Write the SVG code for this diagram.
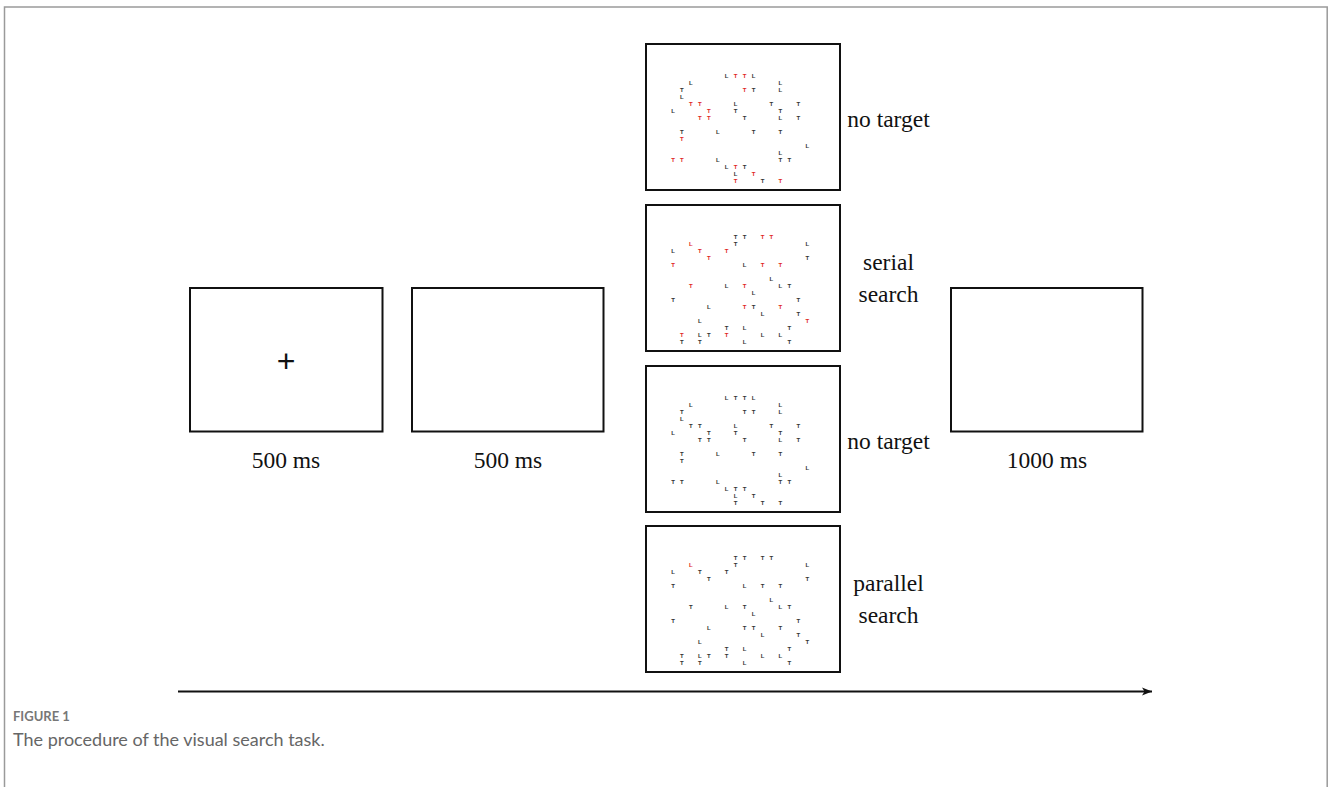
<svg xmlns="http://www.w3.org/2000/svg" width="1328" height="787" viewBox="0 0 1328 787">
<style>
.box{fill:#fff;stroke:#111;stroke-width:2}
.lbl{font-family:"Liberation Serif","Times New Roman",serif;font-size:23.5px;fill:#111;text-anchor:middle}
.s text{font-family:"Liberation Sans",Arial,sans-serif;font-size:6px;font-weight:bold;fill:#333;text-anchor:middle}
.s text.r{fill:#e0261f}
.cap1{font-family:Lato,"Open Sans",sans-serif;font-size:13px;font-weight:bold;fill:#777}
.cap2{font-family:Lato,"Open Sans",sans-serif;font-size:18px;fill:#666}
</style>
<defs>
<marker id="ah" markerWidth="12" markerHeight="10" refX="10" refY="5" orient="auto" markerUnits="userSpaceOnUse">
<path d="M0,1 L10,5 L0,9 L2.5,5 Z" fill="#111"/>
</marker>
</defs>
<rect x="0" y="0" width="1328" height="787" fill="#fff"/>
<g id="frame" fill="none" stroke="#9a9a9a" stroke-width="1.5">
<path d="M4.5,787 V7 H1327.2 V787"/>
</g>

<g id="fixation">
<rect class="box" x="190" y="288" width="192.5" height="143.5"/>
<text x="286" y="372" font-family="'Liberation Sans',Arial,sans-serif" font-size="32" text-anchor="middle" fill="#111">+</text>
<text class="lbl" x="286" y="468">500 ms</text>
</g>

<g id="blank1">
<rect class="box" x="412" y="288" width="191.5" height="143.5"/>
<text class="lbl" x="508" y="468">500 ms</text>
</g>

<g id="blank2">
<rect class="box" x="951" y="288" width="191.5" height="143.5"/>
<text class="lbl" x="1047" y="468">1000 ms</text>
</g>

<g id="stim1" class="s" transform="translate(645,43)">
<rect class="box" x="1" y="1" width="194" height="146"/>
<text x="81.7" y="34.5">L</text><text class="r" x="90.65" y="34.5">T</text><text class="r" x="99.6" y="34.5">T</text><text x="108.55" y="34.5">L</text>
<text x="45.9" y="41.55">L</text><text x="135.4" y="41.55">L</text>
<text x="36.95" y="48.6">T</text><text class="r" x="99.6" y="48.6">T</text><text x="108.55" y="48.6">T</text><text x="135.4" y="48.6">L</text>
<text x="36.95" y="55.65">L</text>
<text class="r" x="45.9" y="62.7">T</text><text class="r" x="54.85" y="62.7">T</text><text x="90.65" y="62.7">L</text><text x="126.45" y="62.7">T</text><text x="153.3" y="62.7">T</text>
<text x="28" y="69.75">L</text><text class="r" x="63.8" y="69.75">T</text><text x="90.65" y="69.75">T</text><text x="135.4" y="69.75">T</text>
<text class="r" x="54.85" y="76.8">T</text><text class="r" x="63.8" y="76.8">T</text><text x="99.6" y="76.8">T</text><text x="135.4" y="76.8">L</text><text x="153.3" y="76.8">T</text>
<text x="36.95" y="90.9">T</text><text x="72.75" y="90.9">L</text><text x="108.55" y="90.9">T</text><text x="135.4" y="90.9">T</text>
<text class="r" x="36.95" y="97.95">T</text>
<text x="162.25" y="105">L</text>
<text x="135.4" y="112.05">L</text>
<text class="r" x="28" y="119.1">T</text><text class="r" x="36.95" y="119.1">T</text><text x="72.75" y="119.1">L</text><text x="135.4" y="119.1">T</text><text x="144.35" y="119.1">T</text>
<text x="81.7" y="126.15">L</text><text class="r" x="90.65" y="126.15">T</text><text x="99.6" y="126.15">T</text>
<text x="90.65" y="133.2">L</text><text class="r" x="108.55" y="133.2">T</text>
<text class="r" x="90.65" y="140.25">T</text><text x="117.5" y="140.25">T</text><text class="r" x="135.4" y="140.25">T</text>
</g>
<text class="lbl" x="888.5" y="126.5">no target</text>

<g id="stim2" class="s" transform="translate(645,204)">
<rect class="box" x="1" y="1" width="194" height="146"/>
<text x="90.65" y="34.5">T</text><text x="99.6" y="34.5">T</text><text class="r" x="117.5" y="34.5">T</text><text class="r" x="126.45" y="34.5">T</text>
<text class="r" x="45.9" y="41.55">L</text><text x="90.65" y="41.55">T</text><text x="162.25" y="41.55">L</text>
<text x="28" y="48.6">L</text><text class="r" x="54.85" y="48.6">T</text><text class="r" x="81.7" y="48.6">T</text>
<text class="r" x="63.8" y="55.65">T</text><text x="162.25" y="55.65">T</text>
<text class="r" x="28" y="62.7">T</text><text x="99.6" y="62.7">L</text><text class="r" x="117.5" y="62.7">T</text><text class="r" x="135.4" y="62.7">T</text>
<text x="126.45" y="76.8">L</text>
<text class="r" x="45.9" y="83.85">T</text><text x="81.7" y="83.85">L</text><text class="r" x="99.6" y="83.85">T</text><text x="135.4" y="83.85">L</text><text x="144.35" y="83.85">T</text>
<text x="108.55" y="90.9">L</text>
<text x="28" y="97.95">T</text><text x="153.3" y="97.95">T</text>
<text x="63.8" y="105">L</text><text class="r" x="99.6" y="105">T</text><text x="108.55" y="105">T</text><text class="r" x="135.4" y="105">T</text>
<text x="117.5" y="112.05">L</text><text x="153.3" y="112.05">T</text>
<text x="54.85" y="119.1">L</text><text class="r" x="162.25" y="119.1">T</text>
<text x="81.7" y="126.15">T</text><text x="99.6" y="126.15">L</text><text x="144.35" y="126.15">T</text>
<text class="r" x="36.95" y="133.2">T</text><text x="54.85" y="133.2">L</text><text x="63.8" y="133.2">T</text><text class="r" x="81.7" y="133.2">T</text><text x="117.5" y="133.2">L</text><text x="135.4" y="133.2">L</text>
<text x="36.95" y="140.25">T</text><text x="54.85" y="140.25">T</text><text x="99.6" y="140.25">L</text><text x="144.35" y="140.25">T</text>
</g>
<text class="lbl" x="888.5" y="270">serial</text>
<text class="lbl" x="888.5" y="301.5">search</text>

<g id="stim3" class="s" transform="translate(645,365)">
<rect class="box" x="1" y="1" width="194" height="146"/>
<text x="81.7" y="34.5">L</text><text x="90.65" y="34.5">T</text><text x="99.6" y="34.5">T</text><text x="108.55" y="34.5">L</text>
<text x="45.9" y="41.55">L</text><text x="135.4" y="41.55">L</text>
<text x="36.95" y="48.6">T</text><text x="99.6" y="48.6">T</text><text x="108.55" y="48.6">T</text><text x="135.4" y="48.6">L</text>
<text x="36.95" y="55.65">L</text>
<text x="45.9" y="62.7">T</text><text x="54.85" y="62.7">T</text><text x="90.65" y="62.7">L</text><text x="126.45" y="62.7">T</text><text x="153.3" y="62.7">T</text>
<text x="28" y="69.75">L</text><text x="63.8" y="69.75">T</text><text x="90.65" y="69.75">T</text><text x="135.4" y="69.75">T</text>
<text x="54.85" y="76.8">T</text><text x="63.8" y="76.8">T</text><text x="99.6" y="76.8">T</text><text x="135.4" y="76.8">L</text><text x="153.3" y="76.8">T</text>
<text x="36.95" y="90.9">T</text><text x="72.75" y="90.9">L</text><text x="108.55" y="90.9">T</text><text x="135.4" y="90.9">T</text>
<text x="36.95" y="97.95">T</text>
<text x="162.25" y="105">L</text>
<text x="135.4" y="112.05">L</text>
<text x="28" y="119.1">T</text><text x="36.95" y="119.1">T</text><text x="72.75" y="119.1">L</text><text x="135.4" y="119.1">T</text><text x="144.35" y="119.1">T</text>
<text x="81.7" y="126.15">L</text><text x="90.65" y="126.15">T</text><text x="99.6" y="126.15">T</text>
<text x="90.65" y="133.2">L</text><text x="108.55" y="133.2">T</text>
<text x="90.65" y="140.25">T</text><text x="117.5" y="140.25">T</text><text x="135.4" y="140.25">T</text>
</g>
<text class="lbl" x="888.5" y="448.5">no target</text>

<g id="stim4" class="s" transform="translate(645,525)">
<rect class="box" x="1" y="1" width="194" height="146"/>
<text x="90.65" y="34.5">T</text><text x="99.6" y="34.5">T</text><text x="117.5" y="34.5">T</text><text x="126.45" y="34.5">T</text>
<text class="r" x="45.9" y="41.55">L</text><text x="90.65" y="41.55">T</text><text x="162.25" y="41.55">L</text>
<text x="28" y="48.6">L</text><text x="54.85" y="48.6">T</text><text x="81.7" y="48.6">T</text>
<text x="63.8" y="55.65">T</text><text x="162.25" y="55.65">T</text>
<text x="28" y="62.7">T</text><text x="99.6" y="62.7">L</text><text x="117.5" y="62.7">T</text><text x="135.4" y="62.7">T</text>
<text x="126.45" y="76.8">L</text>
<text x="45.9" y="83.85">T</text><text x="81.7" y="83.85">L</text><text x="99.6" y="83.85">T</text><text x="135.4" y="83.85">L</text><text x="144.35" y="83.85">T</text>
<text x="108.55" y="90.9">L</text>
<text x="28" y="97.95">T</text><text x="153.3" y="97.95">T</text>
<text x="63.8" y="105">L</text><text x="99.6" y="105">T</text><text x="108.55" y="105">T</text><text x="135.4" y="105">T</text>
<text x="117.5" y="112.05">L</text><text x="153.3" y="112.05">T</text>
<text x="54.85" y="119.1">L</text><text x="162.25" y="119.1">T</text>
<text x="81.7" y="126.15">T</text><text x="99.6" y="126.15">L</text><text x="144.35" y="126.15">T</text>
<text x="36.95" y="133.2">T</text><text x="54.85" y="133.2">L</text><text x="63.8" y="133.2">T</text><text x="81.7" y="133.2">T</text><text x="117.5" y="133.2">L</text><text x="135.4" y="133.2">L</text>
<text x="36.95" y="140.25">T</text><text x="54.85" y="140.25">T</text><text x="99.6" y="140.25">L</text><text x="144.35" y="140.25">T</text>
</g>
<text class="lbl" x="888.5" y="591">parallel</text>
<text class="lbl" x="888.5" y="622.5">search</text>

<g id="connectors">
<line x1="178" y1="691.5" x2="1152" y2="691.5" stroke="#111" stroke-width="2" marker-end="url(#ah)"/>
</g>

<g id="caption">
<text class="cap1" x="13" y="721">FIGURE 1</text>
<text class="cap2" x="13" y="746">The procedure of the visual search task.</text>
</g>
</svg>
